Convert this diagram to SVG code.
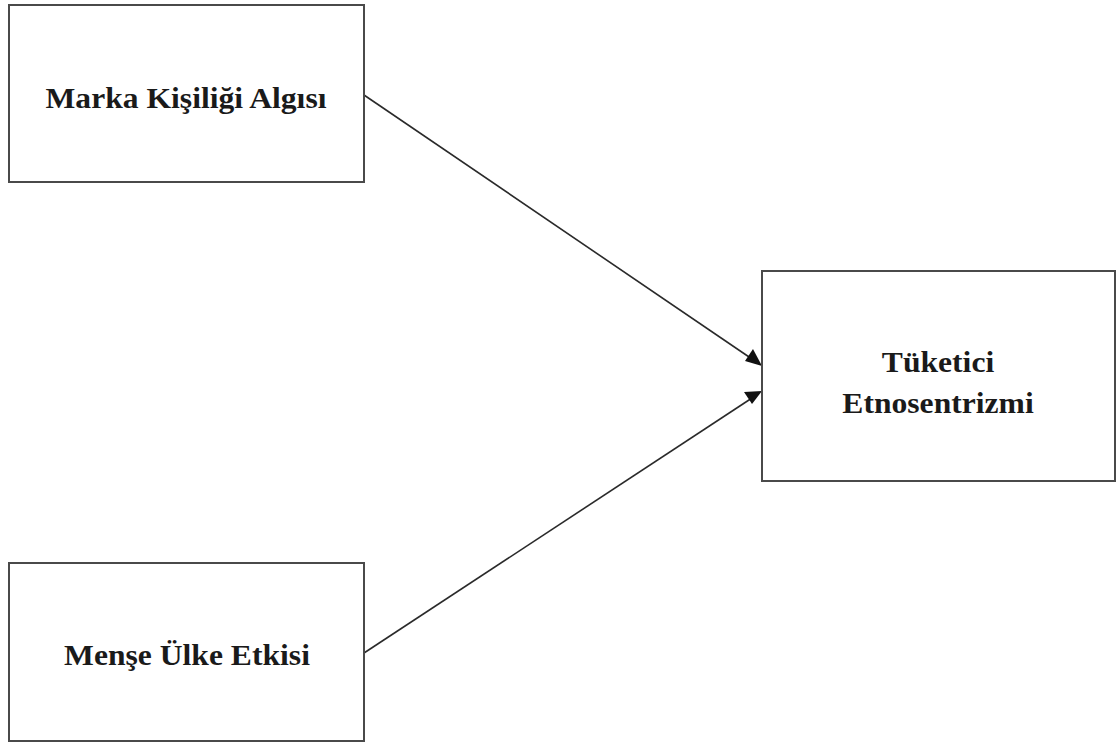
<svg xmlns="http://www.w3.org/2000/svg" width="1117" height="745" viewBox="0 0 1117 745">
  <style>
    .box { fill: #ffffff; stroke: #4a4a4a; stroke-width: 2; }
    .label { font-family: "Liberation Serif", "Times New Roman", serif; font-weight: bold; font-size: 29px; fill: #1a1a1a; text-anchor: middle; }
    .link { stroke: #2a2a2a; stroke-width: 1.6; fill: none; }
    .head { fill: #111111; }
  </style>
  <rect width="1117" height="745" fill="#ffffff"/>

  <g id="connectors">
    <line class="link" x1="364" y1="95" x2="752" y2="359"/>
    <path class="head" d="M762,366 L745,361 L753,349 z"/>
    <line class="link" x1="364" y1="653" x2="752" y2="398"/>
    <path class="head" d="M762,391 L752,404 L744,392 z"/>
  </g>

  <g id="marka-kisiligi-algisi">
    <rect class="box" x="9" y="5" width="355" height="177"/>
    <text class="label" transform="translate(186,108) scale(1.09,1)">Marka Kişiliği Algısı</text>
  </g>

  <g id="tuketici-etnosentrizmi">
    <rect class="box" x="762" y="271" width="353" height="210"/>
    <text class="label" transform="translate(938,372) scale(1.09,1)">Tüketici</text>
    <text class="label" transform="translate(938,413) scale(1.09,1)">Etnosentrizmi</text>
  </g>

  <g id="mense-ulke-etkisi">
    <rect class="box" x="9" y="563" width="355" height="178"/>
    <text class="label" transform="translate(187,665) scale(1.09,1)">Menşe Ülke Etkisi</text>
  </g>
</svg>
